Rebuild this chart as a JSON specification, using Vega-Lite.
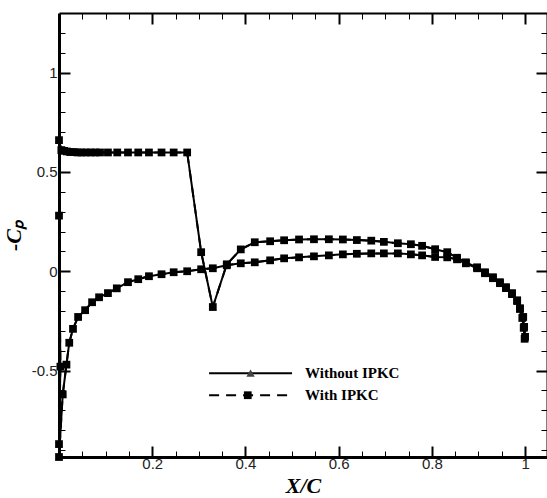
{
  "$schema": "https://vega.github.io/schema/vega-lite/v6.json",
  "width": 488,
  "height": 444,
  "autosize": {"type": "none"},
  "padding": {"left": 59, "top": 13, "right": 0, "bottom": 41},
  "background": "white",
  "config": {"view": {"stroke": null}, "font": "Liberation Sans"},
  "datasets": {
    "cp": [
      {"i":0,"x":1.0,"without":-0.33,"with":-0.33},
      {"i":1,"x":0.998,"without":-0.28,"with":-0.28},
      {"i":2,"x":0.996,"without":-0.23,"with":-0.23},
      {"i":3,"x":0.989,"without":-0.186,"with":-0.186},
      {"i":4,"x":0.983,"without":-0.146,"with":-0.146},
      {"i":5,"x":0.972,"without":-0.11,"with":-0.11},
      {"i":6,"x":0.959,"without":-0.08,"with":-0.08},
      {"i":7,"x":0.946,"without":-0.055,"with":-0.055},
      {"i":8,"x":0.931,"without":-0.03,"with":-0.03},
      {"i":9,"x":0.914,"without":-0.005,"with":-0.005},
      {"i":10,"x":0.897,"without":0.02,"with":0.02},
      {"i":11,"x":0.873,"without":0.045,"with":0.045},
      {"i":12,"x":0.854,"without":0.068,"with":0.068},
      {"i":13,"x":0.833,"without":0.096,"with":0.096},
      {"i":14,"x":0.807,"without":0.111,"with":0.111},
      {"i":15,"x":0.779,"without":0.128,"with":0.128},
      {"i":16,"x":0.755,"without":0.136,"with":0.136},
      {"i":17,"x":0.727,"without":0.141,"with":0.141},
      {"i":18,"x":0.697,"without":0.148,"with":0.148},
      {"i":19,"x":0.67,"without":0.154,"with":0.154},
      {"i":20,"x":0.639,"without":0.157,"with":0.157},
      {"i":21,"x":0.609,"without":0.16,"with":0.16},
      {"i":22,"x":0.579,"without":0.161,"with":0.161},
      {"i":23,"x":0.547,"without":0.161,"with":0.161},
      {"i":24,"x":0.515,"without":0.16,"with":0.16},
      {"i":25,"x":0.483,"without":0.156,"with":0.156},
      {"i":26,"x":0.453,"without":0.151,"with":0.151},
      {"i":27,"x":0.42,"without":0.146,"with":0.146},
      {"i":28,"x":0.39,"without":0.11,"with":0.11},
      {"i":29,"x":0.36,"without":0.035,"with":0.035},
      {"i":30,"x":0.33,"without":-0.18,"with":-0.18},
      {"i":31,"x":0.305,"without":0.096,"with":0.096},
      {"i":32,"x":0.275,"without":0.598,"with":0.598},
      {"i":33,"x":0.246,"without":0.598,"with":0.598},
      {"i":34,"x":0.22,"without":0.598,"with":0.598},
      {"i":35,"x":0.193,"without":0.598,"with":0.598},
      {"i":36,"x":0.17,"without":0.598,"with":0.598},
      {"i":37,"x":0.148,"without":0.598,"with":0.598},
      {"i":38,"x":0.125,"without":0.598,"with":0.598},
      {"i":39,"x":0.105,"without":0.598,"with":0.598},
      {"i":40,"x":0.088,"without":0.598,"with":0.598},
      {"i":41,"x":0.078,"without":0.598,"with":0.598},
      {"i":42,"x":0.068,"without":0.598,"with":0.598},
      {"i":43,"x":0.058,"without":0.598,"with":0.598},
      {"i":44,"x":0.048,"without":0.598,"with":0.598},
      {"i":45,"x":0.04,"without":0.598,"with":0.598},
      {"i":46,"x":0.032,"without":0.6,"with":0.6},
      {"i":47,"x":0.024,"without":0.6,"with":0.6},
      {"i":48,"x":0.017,"without":0.603,"with":0.603},
      {"i":49,"x":0.011,"without":0.606,"with":0.606},
      {"i":50,"x":0.005,"without":0.61,"with":0.61},
      {"i":51,"x":0.0,"without":0.66,"with":0.66},
      {"i":52,"x":0.0,"without":0.28,"with":0.28},
      {"i":53,"x":0.003,"without":-0.48,"with":-0.48},
      {"i":54,"x":0.0,"without":-0.87,"with":-0.87},
      {"i":55,"x":0.0,"without":-0.935,"with":-0.935},
      {"i":56,"x":0.008,"without":-0.62,"with":-0.62},
      {"i":57,"x":0.016,"without":-0.47,"with":-0.47},
      {"i":58,"x":0.022,"without":-0.36,"with":-0.36},
      {"i":59,"x":0.03,"without":-0.29,"with":-0.29},
      {"i":60,"x":0.041,"without":-0.23,"with":-0.23},
      {"i":61,"x":0.056,"without":-0.196,"with":-0.196},
      {"i":62,"x":0.071,"without":-0.156,"with":-0.156},
      {"i":63,"x":0.086,"without":-0.131,"with":-0.131},
      {"i":64,"x":0.105,"without":-0.11,"with":-0.11},
      {"i":65,"x":0.124,"without":-0.086,"with":-0.086},
      {"i":66,"x":0.148,"without":-0.055,"with":-0.055},
      {"i":67,"x":0.17,"without":-0.04,"with":-0.04},
      {"i":68,"x":0.193,"without":-0.025,"with":-0.025},
      {"i":69,"x":0.22,"without":-0.015,"with":-0.015},
      {"i":70,"x":0.246,"without":-0.005,"with":-0.005},
      {"i":71,"x":0.275,"without":0.0,"with":0.0},
      {"i":72,"x":0.305,"without":0.01,"with":0.01},
      {"i":73,"x":0.33,"without":0.015,"with":0.015},
      {"i":74,"x":0.36,"without":0.03,"with":0.03},
      {"i":75,"x":0.39,"without":0.04,"with":0.04},
      {"i":76,"x":0.42,"without":0.045,"with":0.045},
      {"i":77,"x":0.453,"without":0.055,"with":0.055},
      {"i":78,"x":0.483,"without":0.065,"with":0.065},
      {"i":79,"x":0.515,"without":0.07,"with":0.07},
      {"i":80,"x":0.547,"without":0.075,"with":0.075},
      {"i":81,"x":0.579,"without":0.08,"with":0.08},
      {"i":82,"x":0.609,"without":0.085,"with":0.085},
      {"i":83,"x":0.639,"without":0.088,"with":0.088},
      {"i":84,"x":0.67,"without":0.09,"with":0.09},
      {"i":85,"x":0.697,"without":0.09,"with":0.09},
      {"i":86,"x":0.727,"without":0.09,"with":0.09},
      {"i":87,"x":0.755,"without":0.085,"with":0.085},
      {"i":88,"x":0.779,"without":0.08,"with":0.08},
      {"i":89,"x":0.807,"without":0.072,"with":0.072},
      {"i":90,"x":0.833,"without":0.07,"with":0.07},
      {"i":91,"x":0.854,"without":0.06,"with":0.06},
      {"i":92,"x":0.873,"without":0.04,"with":0.04},
      {"i":93,"x":0.897,"without":0.015,"with":0.015},
      {"i":94,"x":0.914,"without":-0.01,"with":-0.01},
      {"i":95,"x":0.931,"without":-0.035,"with":-0.035},
      {"i":96,"x":0.946,"without":-0.06,"with":-0.06},
      {"i":97,"x":0.959,"without":-0.085,"with":-0.085},
      {"i":98,"x":0.972,"without":-0.115,"with":-0.115},
      {"i":99,"x":0.983,"without":-0.15,"with":-0.15},
      {"i":100,"x":0.989,"without":-0.19,"with":-0.19},
      {"i":101,"x":0.994,"without":-0.235,"with":-0.235},
      {"i":102,"x":0.997,"without":-0.285,"with":-0.285},
      {"i":103,"x":0.999,"without":-0.34,"with":-0.34}
    ]
  },
  "layer": [
    {
      "data": {"name": "cp"},
      "mark": {"type": "line", "color": "black", "strokeWidth": 2},
      "encoding": {
        "x": {"field": "x", "type": "quantitative", "scale": {"domain": [0, 1.047], "nice": false, "zero": false},
          "axis": {"orient": "bottom", "grid": false,
            "values": [0.05,0.1,0.15,0.2,0.25,0.3,0.35,0.4,0.45,0.5,0.55,0.6,0.65,0.7,0.75,0.8,0.85,0.9,0.95,1.0],
            "labelExpr": "abs(datum.value*5-round(datum.value*5))<0.001 ? toString(round(datum.value*10)/10) : ''",
            "tickSize": {"condition": {"test": "abs(datum.value*5-round(datum.value*5))<0.001", "value": -11}, "value": -6},
            "tickWidth": {"condition": {"test": "abs(datum.value*5-round(datum.value*5))<0.001", "value": 2}, "value": 1},
            "tickColor": "black", "domainColor": "black", "domainWidth": 3,
            "labelFont": "Liberation Sans", "labelFontSize": 15, "labelColor": "#222", "labelPadding": 10,
            "title": "X/C", "titleFont": "Liberation Serif", "titleFontStyle": "italic", "titleFontWeight": "bold",
            "titleFontSize": 22, "titleColor": "black", "titlePadding": 4}},
        "y": {"field": "without", "type": "quantitative", "scale": {"domain": [-0.935, 1.3], "nice": false, "zero": false},
          "axis": {"orient": "left", "grid": false,
            "values": [-0.9,-0.8,-0.7,-0.6,-0.5,-0.4,-0.3,-0.2,-0.1,0,0.1,0.2,0.3,0.4,0.5,0.6,0.7,0.8,0.9,1.0,1.1,1.2],
            "labelExpr": "abs(datum.value*2-round(datum.value*2))<0.001 ? toString(round(datum.value*10)/10) : ''",
            "tickSize": {"condition": {"test": "abs(datum.value*2-round(datum.value*2))<0.001", "value": -11}, "value": -6},
            "tickWidth": {"condition": {"test": "abs(datum.value*2-round(datum.value*2))<0.001", "value": 2}, "value": 1},
            "tickColor": "black", "domainColor": "black", "domainWidth": 3,
            "labelFont": "Liberation Sans", "labelFontSize": 15, "labelColor": "#222", "labelPadding": 13,
            "title": "-Cₚ", "titleFont": "Liberation Serif", "titleFontStyle": "italic", "titleFontWeight": "bold",
            "titleFontSize": 22, "titleColor": "black", "titlePadding": 6}},
        "order": {"field": "i", "type": "quantitative"}
      }
    },
    {
      "data": {"name": "cp"},
      "mark": {"type": "point", "shape": "triangle-up", "filled": true, "color": "#555", "size": 55, "opacity": 1},
      "encoding": {
        "x": {"field": "x", "type": "quantitative", "scale": {"domain": [0, 1.047], "nice": false, "zero": false}, "axis": null},
        "y": {"field": "without", "type": "quantitative", "scale": {"domain": [-0.935, 1.3], "nice": false, "zero": false}, "axis": null}
      }
    },
    {
      "data": {"name": "cp"},
      "mark": {"type": "line", "color": "black", "strokeWidth": 2, "strokeDash": [10, 7]},
      "encoding": {
        "x": {"field": "x", "type": "quantitative", "scale": {"domain": [0, 1.047], "nice": false, "zero": false},
          "axis": {"orient": "top", "grid": false, "labels": false, "title": null,
            "values": [0.05,0.1,0.15,0.2,0.25,0.3,0.35,0.4,0.45,0.5,0.55,0.6,0.65,0.7,0.75,0.8,0.85,0.9,0.95,1.0],
            "tickSize": {"condition": {"test": "abs(datum.value*5-round(datum.value*5))<0.001", "value": -11}, "value": -6},
            "tickWidth": {"condition": {"test": "abs(datum.value*5-round(datum.value*5))<0.001", "value": 2}, "value": 1},
            "tickColor": "black", "domainColor": "black", "domainWidth": 2}},
        "y": {"field": "with", "type": "quantitative", "scale": {"domain": [-0.935, 1.3], "nice": false, "zero": false},
          "axis": {"orient": "right", "grid": false, "labels": false, "title": null,
            "values": [-0.9,-0.8,-0.7,-0.6,-0.5,-0.4,-0.3,-0.2,-0.1,0,0.1,0.2,0.3,0.4,0.5,0.6,0.7,0.8,0.9,1.0,1.1,1.2],
            "tickSize": {"condition": {"test": "abs(datum.value*2-round(datum.value*2))<0.001", "value": -11}, "value": -6},
            "tickWidth": {"condition": {"test": "abs(datum.value*2-round(datum.value*2))<0.001", "value": 2}, "value": 1},
            "tickColor": "black", "domainColor": "black", "domainWidth": 2}},
        "order": {"field": "i", "type": "quantitative"}
      }
    },
    {
      "data": {"name": "cp"},
      "mark": {"type": "point", "shape": "square", "filled": true, "color": "black", "size": 60, "opacity": 1},
      "encoding": {
        "x": {"field": "x", "type": "quantitative", "scale": {"domain": [0, 1.047], "nice": false, "zero": false}, "axis": null},
        "y": {"field": "with", "type": "quantitative", "scale": {"domain": [-0.935, 1.3], "nice": false, "zero": false}, "axis": null}
      }
    },
    {
      "data": {"values": [{"series": "Without IPKC"}]},
      "mark": {"type": "rule", "color": "black", "strokeWidth": 2},
      "encoding": {
        "x": {"datum": 0.322, "type": "quantitative", "scale": {"domain": [0, 1.047], "nice": false, "zero": false}, "axis": null},
        "x2": {"datum": 0.5},
        "y": {"datum": -0.513, "type": "quantitative", "scale": {"domain": [-0.935, 1.3], "nice": false, "zero": false}, "axis": null}
      }
    },
    {
      "data": {"values": [{"series": "With IPKC"}]},
      "mark": {"type": "rule", "color": "black", "strokeWidth": 2, "strokeDash": [10, 7]},
      "encoding": {
        "x": {"datum": 0.322, "type": "quantitative", "scale": {"domain": [0, 1.047], "nice": false, "zero": false}, "axis": null},
        "x2": {"datum": 0.5},
        "y": {"datum": -0.624, "type": "quantitative", "scale": {"domain": [-0.935, 1.3], "nice": false, "zero": false}, "axis": null}
      }
    },
    {
      "data": {"values": [{"series": "Without IPKC"}]},
      "mark": {"type": "point", "shape": "triangle-up", "filled": true, "color": "#444", "size": 70, "opacity": 1},
      "encoding": {
        "x": {"datum": 0.411, "type": "quantitative", "scale": {"domain": [0, 1.047], "nice": false, "zero": false}, "axis": null},
        "y": {"datum": -0.513, "type": "quantitative", "scale": {"domain": [-0.935, 1.3], "nice": false, "zero": false}, "axis": null}
      }
    },
    {
      "data": {"values": [{"series": "With IPKC"}]},
      "mark": {"type": "point", "shape": "square", "filled": true, "color": "black", "size": 60, "opacity": 1},
      "encoding": {
        "x": {"datum": 0.405, "type": "quantitative", "scale": {"domain": [0, 1.047], "nice": false, "zero": false}, "axis": null},
        "y": {"datum": -0.624, "type": "quantitative", "scale": {"domain": [-0.935, 1.3], "nice": false, "zero": false}, "axis": null}
      }
    },
    {
      "data": {"values": [{"series": "Without IPKC"}]},
      "mark": {"type": "text", "align": "left", "baseline": "middle", "font": "Liberation Serif", "fontWeight": "bold", "fontSize": 15, "color": "black"},
      "encoding": {
        "x": {"datum": 0.528, "type": "quantitative", "scale": {"domain": [0, 1.047], "nice": false, "zero": false}, "axis": null},
        "y": {"datum": -0.513, "type": "quantitative", "scale": {"domain": [-0.935, 1.3], "nice": false, "zero": false}, "axis": null},
        "text": {"field": "series"}
      }
    },
    {
      "data": {"values": [{"series": "With IPKC"}]},
      "mark": {"type": "text", "align": "left", "baseline": "middle", "font": "Liberation Serif", "fontWeight": "bold", "fontSize": 15, "color": "black"},
      "encoding": {
        "x": {"datum": 0.528, "type": "quantitative", "scale": {"domain": [0, 1.047], "nice": false, "zero": false}, "axis": null},
        "y": {"datum": -0.624, "type": "quantitative", "scale": {"domain": [-0.935, 1.3], "nice": false, "zero": false}, "axis": null},
        "text": {"field": "series"}
      }
    }
  ],
  "resolve": {"axis": {"x": "independent", "y": "independent"}}
}
